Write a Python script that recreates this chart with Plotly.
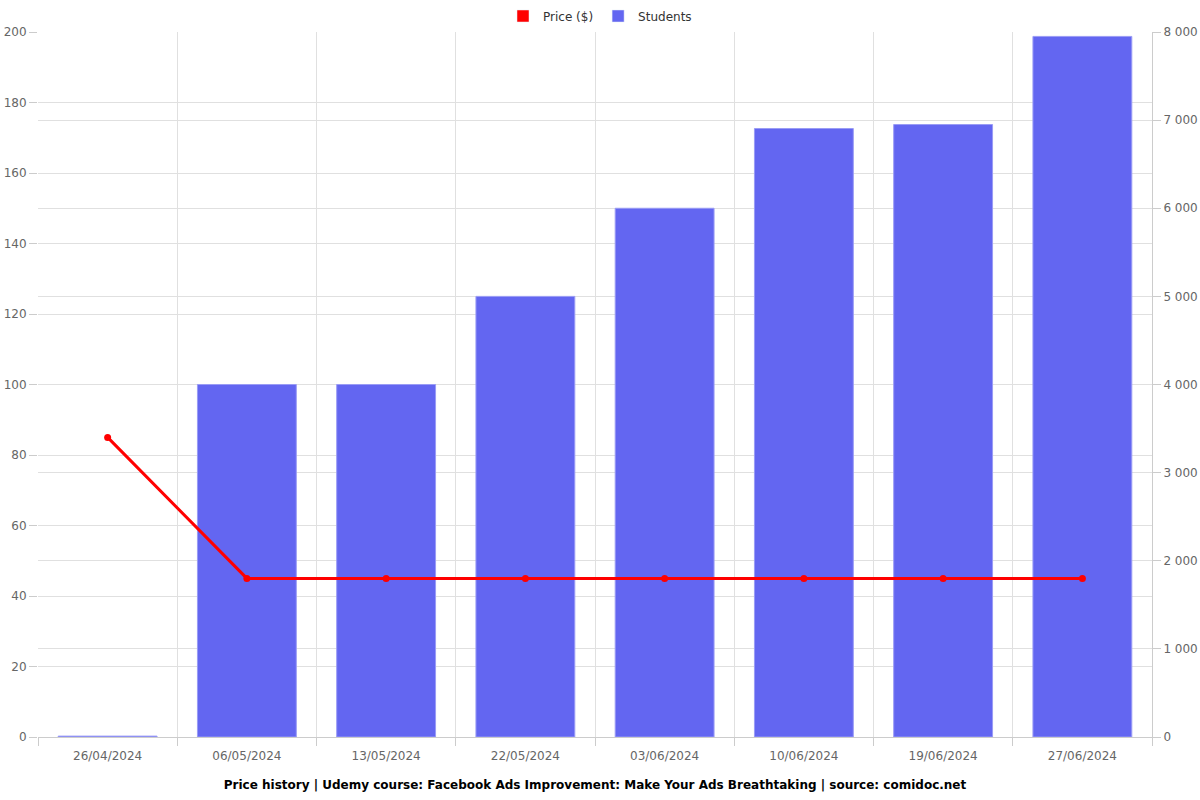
import plotly.graph_objects as go

dates = ["26/04/2024", "06/05/2024", "13/05/2024", "22/05/2024",
         "03/06/2024", "10/06/2024", "19/06/2024", "27/06/2024"]
students = [10, 4000, 4000, 5000, 6000, 6905, 6950, 7950]
price = [84.99, 44.99, 44.99, 44.99, 44.99, 44.99, 44.99, 44.99]

title_text = ("Price history | Udemy course: Facebook Ads Improvement: "
              "Make Your Ads Breathtaking | source: comidoc.net")

fig = go.Figure()

# legend-only swatches (rectangles like the reference)
fig.add_trace(go.Bar(x=[None], y=[None], name="Price ($)", marker_color="#ff0000",
                     showlegend=True, yaxis="y"))
fig.add_trace(go.Bar(x=[None], y=[None], name="Students", marker_color="#6366f1",
                     showlegend=True, yaxis="y"))

fig.add_trace(go.Bar(
    x=dates, y=students, name="Students", yaxis="y",
    marker=dict(color="#6366f1", line=dict(color="#9a9cf5", width=1)),
    width=0.71, showlegend=False,
))
fig.add_trace(go.Scatter(
    x=dates, y=price, name="Price ($)", yaxis="y2", mode="lines+markers",
    line=dict(color="#ff0000", width=3), marker=dict(color="#ff0000", size=7),
    showlegend=False,
))

grid = "#e0e0e0"
fig.update_layout(
    width=1200, height=800,
    margin=dict(l=38, r=48, t=32, b=63),
    plot_bgcolor="white", paper_bgcolor="white",
    font=dict(family="DejaVu Sans", size=12, color="#666666"),
    separators=". ",
    barmode="overlay",
    showlegend=True,
    legend=dict(orientation="h", x=0.5, xanchor="center", xref="container",
                y=1 - 16 / 800, yanchor="middle", yref="container",
                font=dict(size=12, color="#333333"),
                traceorder="normal"),
    xaxis=dict(
        type="category", tickson="boundaries", showgrid=True, gridcolor=grid,
        ticks="outside", ticklen=8, tickcolor="#cccccc", ticklabelstandoff=8,
        showline=True, linecolor="#cccccc", automargin=False,
        range=[-0.5, 7.5],
        title=dict(text="<b>" + title_text + "</b>",
                   font=dict(size=12, color="#000000"), standoff=18),
    ),
    yaxis=dict(
        side="right", range=[0, 8000], dtick=1000, showgrid=True, gridcolor=grid,
        ticks="outside", ticklen=8, tickcolor="#cccccc", automargin=False,
        showline=True, linecolor="#cccccc", zeroline=False,
        separatethousands=True,
    ),
    yaxis2=dict(
        overlaying="y", side="left", range=[0, 200], dtick=20, showgrid=True,
        gridcolor=grid, ticks="outside", ticklen=8, tickcolor="#cccccc",
        showline=False, zeroline=False, automargin=False,
    ),
)

fig.write_html("out.html")
